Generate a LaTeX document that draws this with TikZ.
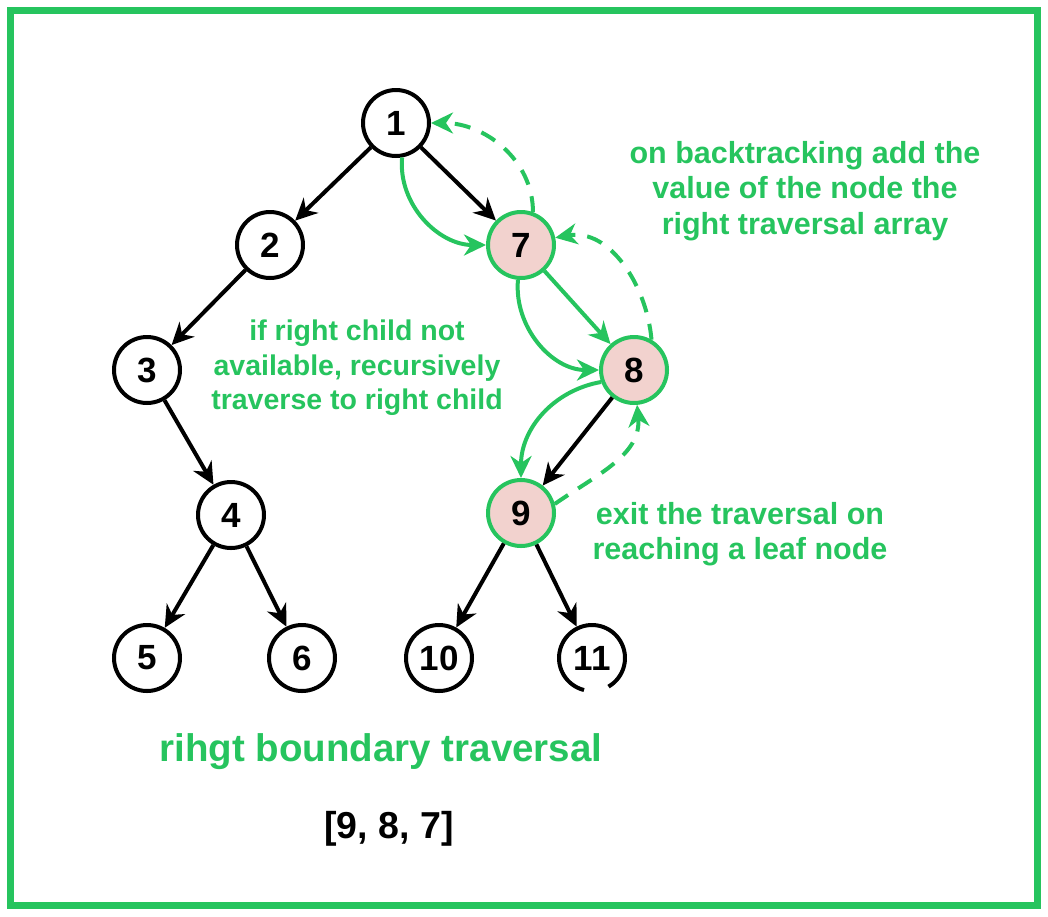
\documentclass[tikz,border=0pt]{standalone}
\usepackage{fontspec}
\setmainfont{Liberation Sans}
\usetikzlibrary{arrows.meta}
\definecolor{gg}{RGB}{38,196,94}
\definecolor{pk}{RGB}{242,210,206}
\tikzset{
  tn/.style={circle,draw=black,line width=4pt,minimum size=66pt,inner sep=0pt,fill=white,font=\fontsize{35}{35}\selectfont\bfseries},
  hn/.style={tn,draw=gg,fill=pk},
  ed/.style={line width=4pt,-{Stealth[length=22pt,width=21pt,inset=7pt]}},
  ged/.style={ed,draw=gg,color=gg},
  gdash/.style={ged,dash pattern=on 16pt off 12pt},
  lbl/.style={text=gg,align=center,font=\fontsize{30.5}{35.5}\selectfont\bfseries},
}
\begin{document}
\begin{tikzpicture}[x=1pt,y=-1pt]
\useasboundingbox (0,0) rectangle (1048,916);
\draw[gg,line width=7pt] (10.5,10.5) rectangle (1037.5,905.5);

\node[tn] (n1) at (396,123) {1};
\node[tn] (n2) at (270,245) {2};
\node[tn] (n3) at (147,370) {3};
\node[tn] (n4) at (231,515) {4};
\node[tn] (n5) at (147,658) {5};
\node[tn] (n6) at (302,658) {6};
\node[hn] (n7) at (521,245) {7};
\node[hn] (n8) at (634,370) {8};
\node[hn] (n9) at (521,513) {9};
\node[tn] (n10) at (439,658) {10};
\node[tn,draw=none,fill=none] (n11) at (592,658) {11};
\draw[line width=4pt] (n11.center) ++(104:33) arc[start angle=104,end angle=420,radius=33];

\draw[ed] (n1) -- (n2);
\draw[ed] (n1) -- (n7);
\draw[ed] (n2) -- (n3);
\draw[ed] (n3) -- (n4);
\draw[ed] (n4) -- (n5);
\draw[ed] (n4) -- (n6);
\draw[ed] (n8) -- (n9);
\draw[ed] (n9) -- (n10);
\draw[ed] (n9) -- (n11);

\draw[ged] (n7) -- (n8);
\draw[ged] (n1.-80) to[out=-95,in=180] (n7.west);
\draw[ged] (n7.-95) to[out=-95,in=180] (n8.west);
\draw[ged] (n8.200) to[out=190,in=90] (n9.north);
\draw[gdash] (n7.70) to[out=90,in=0] (n1.east);
\draw[gdash] (n8.60) to[out=95,in=10] (n7.12);
\draw[gdash] (n9.15) to[out=35,in=-85] (n8.-85);

\node[lbl] (t1) at (805,191) {on backtracking add the\\value of the node the\\right traversal array};
\node[lbl,font=\fontsize{28.5}{34.5}\selectfont\bfseries] (t2) at (357,368) {if right child not\\available, recursively\\traverse to right child};
\node[lbl] (t3) at (740,534) {exit the traversal on\\reaching a leaf node};
\node[text=gg,font=\fontsize{38.5}{40}\selectfont\bfseries] (t4) at (381,752) {rihgt boundary traversal};
\node[font=\fontsize{37.5}{40}\selectfont\bfseries] (t5) at (389,829) {[9, 8, 7]};
\end{tikzpicture}
\end{document}
